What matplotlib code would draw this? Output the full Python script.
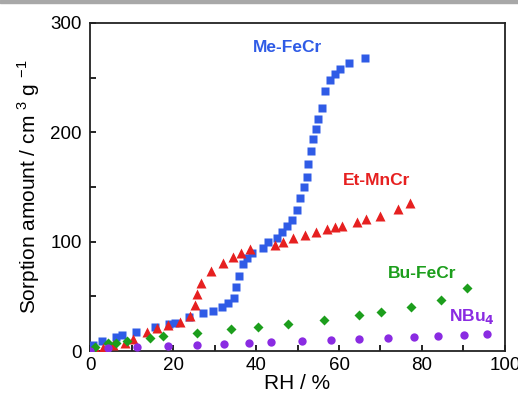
import matplotlib
matplotlib.use('Agg')
import matplotlib.pyplot as plt
from matplotlib.ticker import MultipleLocator
from matplotlib.patches import Rectangle

# data
me_x = [0.8, 3.0, 6.3, 7.8, 11.2, 15.7, 19.1, 20.5, 23.9, 27.3, 29.6, 31.7,
        33.3, 34.7, 35.3, 36.0, 36.8, 37.8, 39.0, 41.6, 43.0, 45.0, 46.3,
        47.4, 48.6, 49.8, 50.6, 51.6, 52.4, 52.6, 53.3, 53.8, 54.5, 54.9,
        55.8, 56.6, 57.8, 59.0, 60.2, 62.4, 66.3]
me_y = [5.5, 9, 13, 14.6, 17.7, 21.6, 25, 26, 31.4, 34.5, 36.9, 40,
        43.5, 48.8, 58.8, 68.9, 80, 84.7, 90, 94.5, 99.4, 103, 109,
        114, 120, 129, 140, 150, 159.5, 171, 183, 193.6, 202.8, 212,
        222.6, 238, 248, 253, 257.6, 263.7, 268]

et_x = [1.2, 3.2, 5.6, 8.4, 10.4, 13.7, 16.2, 18.7, 21.7, 24.1, 25.3, 25.9,
        26.7, 29.2, 32.0, 34.5, 36.3, 38.6, 44.6, 46.4, 49.0, 51.8, 54.4,
        57.0, 59.0, 60.8, 64.3, 66.5, 69.9, 74.1, 77.1]
et_y = [2.4, 3, 5.5, 7.6, 10.7, 17, 20.7, 23.8, 26.8, 32, 42, 52,
        62.5, 73.5, 80.8, 86.3, 89.3, 93, 97, 100, 103.7, 106, 109,
        111.6, 113.7, 114.6, 118.3, 120.4, 123.5, 129.5, 135.7]

bu_x = [1.2, 4.4, 6.3, 8.8, 14.5, 17.7, 25.7, 34.0, 40.4, 47.8, 56.4, 64.7,
        70.1, 77.3, 84.6, 90.8]
bu_y = [4, 7.6, 7.6, 9.4, 11.6, 13.7, 16.7, 19.8, 21.6, 24.7, 28.4, 33,
        36, 40.5, 46.7, 57.3]

nb_x = [0.0, 4.4, 11.4, 18.7, 25.9, 32.4, 38.4, 43.6, 51.2, 58.0, 64.7,
        71.7, 78.1, 83.8, 90.2, 95.6]
nb_y = [0.3, 2.4, 4, 4.9, 5.5, 6, 7, 7.9, 9, 9.7, 10.6, 11.5, 12.4,
        13.7, 14.6, 15.5]

blue = '#2f5be6'
red = '#e62020'
green = '#1c9e1c'
purple = '#8a2be2'

plt.rcParams['font.family'] = ['Liberation Sans', 'DejaVu Sans']
plt.rcParams['mathtext.fontset'] = 'custom'
plt.rcParams['mathtext.rm'] = 'Liberation Sans'

fig = plt.figure(figsize=(5.18, 4.07), dpi=100)
ax = fig.add_axes([90/518, 1 - 351/407, 415/518, 328/407])

# thin grey band along the top edge
fig.patches.append(Rectangle((0, 1 - 3/407), 1, 3/407, transform=fig.transFigure,
                             color='#a8a8a8', zorder=0))

ax.plot(me_x, me_y, 's', color=blue, ms=6.2, mec='none', zorder=3)
ax.plot(et_x, et_y, '^', color=red, ms=6.8, mec='none', zorder=3)
ax.plot(bu_x, bu_y, 'D', color=green, ms=5.6, mec='none', zorder=3)
ax.plot(nb_x, nb_y, 'o', color=purple, ms=6.0, mec='none', zorder=4)

ax.set_xlim(0, 100)
ax.set_ylim(0, 300)
ax.xaxis.set_major_locator(MultipleLocator(20))
ax.xaxis.set_minor_locator(MultipleLocator(10))
ax.yaxis.set_major_locator(MultipleLocator(100))
ax.yaxis.set_minor_locator(MultipleLocator(50))
ax.tick_params(which='both', direction='in', length=4, width=1.2, labelsize=13.5)
ax.tick_params(axis='x', pad=4)
ax.tick_params(axis='y', pad=6)
for s in ax.spines.values():
    s.set_linewidth(1.3)
    s.set_color('#222222')

ax.set_xlabel('RH / %', fontsize=15, labelpad=0)
ax.set_ylabel('Sorption amount / cm $^{3}$ g $^{-1}$', fontsize=15, labelpad=6)

lab = dict(fontsize=12.5, fontweight='bold', ha='center', va='center',
           transform=fig.transFigure)
fig.text(287/518, 1 - 48/407, 'Me-FeCr', color=blue, **lab)
fig.text(377/518, 1 - 181/407, 'Et-MnCr', color=red, **lab)
fig.text(422/518, 1 - 273/407, 'Bu-FeCr', color=green, **lab)
fig.text(472/518, 1 - 317/407, r'NBu$_\mathbf{4}$', color=purple, **lab)

fig.savefig('out.png', dpi=100)
